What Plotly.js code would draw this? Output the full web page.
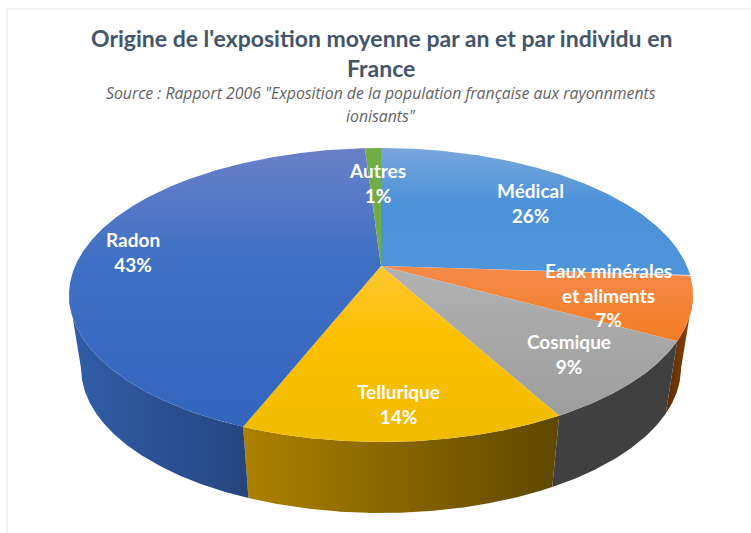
<!DOCTYPE html>
<html>
<head>
<meta charset="utf-8">
<script src="https://cdn.plot.ly/plotly-3.0.1.min.js"></script>
<style>html,body{margin:0;padding:0;background:#fff;overflow:hidden}</style>
</head>
<body>
<div id="chart" style="width:751px;height:533px"></div>
<script>
// --- data, clockwise from 12 o'clock ---
const categories = ['Médical', 'Eaux minérales<br>et aliments', 'Cosmique', 'Tellurique', 'Radon', 'Autres'];
const values = [26, 7, 9, 14, 43, 1];

// --- styles (stops run from the bottom of each shape to its top on the reversed axis) ---
const topColors = [
  [[0, '#4e95da'], [0.55, '#4c91d9'], [1, '#78a6da']],
  [[0, '#f27d24'], [1, '#f58a4b']],
  [[0, '#9d9d9d'], [1, '#b2b2b2']],
  [[0, '#f0bc00'], [0.6, '#fcc000'], [1, '#ffc634']],
  [[0, '#3465bd'], [0.6, '#4070c4'], [1, '#6a80c8']],
  [[0, '#70ad47'], [1, '#70ad47']]
];
const wallColors = [
  [[0, '#4a80bc'], [1, '#4a80bc']],
  [[0, '#5c2c06'], [1, '#8a430a']],
  [[0, '#404040'], [1, '#404040']],
  [[0, '#ad8200'], [1, '#5e4700']],
  [[0, '#315ea9'], [1, '#26457f']],
  [[0, '#55843a'], [1, '#55843a']]
];
const labelX = [530, 608, 569, 398, 133, 377];
const labelY = [203, 295, 354, 404, 252, 183];

// --- projection of the tilted disc ---
const topDisc = {cx: 381, cy: 295, rx: 312, ry: 147};
const baseDisc = {cx: 381, cy: 368, rx: 300, ry: 145};
const apex = {x: 381, y: 266};
const persp = 0.0995;

function projected(thetaDeg) {
  const a = (90 - thetaDeg) * Math.PI / 180;
  const re = Math.cos(a), im = Math.sin(a);
  // (w + ip) / (1 - ip w)
  const nr = re, ni = im + persp;
  const dr = 1 + persp * im, di = -persp * re;
  const den = dr * dr + di * di;
  return Math.atan2((ni * dr - nr * di) / den, (nr * dr + ni * di) / den);
}
function onDisc(d, phi) {
  return [d.cx + d.rx * Math.cos(phi), d.cy - d.ry * Math.sin(phi)];
}

const total = values.reduce((a, b) => a + b, 0);
const walls = [], faces = [];
let acc = 0;
values.forEach((v, i) => {
  const t0 = acc / total * 360, t1 = (acc + v) / total * 360;
  acc += v;
  const phis = [];
  const n = Math.max(2, Math.ceil((t1 - t0) * 4));
  for (let k = 0; k <= n; k++) phis.push(projected(t0 + (t1 - t0) * k / n));
  const fx = [apex.x], fy = [apex.y];
  phis.forEach(p => { const q = onDisc(topDisc, p); fx.push(q[0]); fy.push(q[1]); });
  fx.push(apex.x); fy.push(apex.y);
  faces.push({x: fx, y: fy, mode: 'lines', fill: 'toself', line: {width: 0},
    fillgradient: {type: 'vertical', colorscale: topColors[i]},
    hoverinfo: 'skip', showlegend: false, name: categories[i]});
  const lower = phis.filter(p => p <= 0 && p >= -Math.PI);
  if (lower.length > 1) {
    const up = lower.map(p => onDisc(topDisc, p));
    const dn = lower.map(p => onDisc(baseDisc, p)).reverse();
    const all = up.concat(dn);
    all.push(all[0]);
    walls.push({x: all.map(q => q[0]), y: all.map(q => q[1]), mode: 'lines', fill: 'toself', line: {width: 0},
      fillgradient: {type: 'horizontal', colorscale: wallColors[i]},
      hoverinfo: 'skip', showlegend: false, name: categories[i] + ' (side)'});
  }
});

const white = {family: 'Lato, Carlito, sans-serif', size: 19, color: '#ffffff'};
const annotations = categories.map((c, i) => ({
  x: labelX[i], y: labelY[i], xref: 'x', yref: 'y', showarrow: false, align: 'center',
  text: '<b>' + c + '<br>' + values[i] + '%</b>', font: white
}));
const titleFont = {family: 'Lato, Carlito, sans-serif', size: 23, color: '#44546a'};
const subFont = {family: 'Open Sans, sans-serif', size: 15.8, color: '#636363', style: 'italic'};
annotations.push(
  {x: 381, y: 38, xref: 'x', yref: 'y', showarrow: false, text: "<b>Origine de l'exposition moyenne par an et par individu en</b>", font: titleFont},
  {x: 381, y: 68, xref: 'x', yref: 'y', showarrow: false, text: '<b>France</b>', font: titleFont},
  {x: 381, y: 93, xref: 'x', yref: 'y', showarrow: false, text: 'Source : Rapport 2006 "Exposition de la population française aux rayonnments', font: subFont},
  {x: 381, y: 116, xref: 'x', yref: 'y', showarrow: false, text: 'ionisants"', font: subFont}
);

const layout = {
  width: 751, height: 533, margin: {l: 0, r: 0, t: 0, b: 0},
  paper_bgcolor: '#ffffff', plot_bgcolor: '#ffffff', showlegend: false,
  xaxis: {range: [0, 751], visible: false, fixedrange: true},
  yaxis: {range: [533, 0], visible: false, fixedrange: true},
  annotations: annotations,
  shapes: [
    {type: 'line', x0: 7, x1: 751, y0: 9, y1: 9, xref: 'x', yref: 'y', line: {color: '#e3e8f0', width: 1}},
    {type: 'line', x0: 7, x1: 7, y0: 9, y1: 533, xref: 'x', yref: 'y', line: {color: '#e3e8f0', width: 1}}
  ]
};
Plotly.newPlot('chart', walls.concat(faces), layout, {displayModeBar: false, responsive: false});
</script>
</body>
</html>
